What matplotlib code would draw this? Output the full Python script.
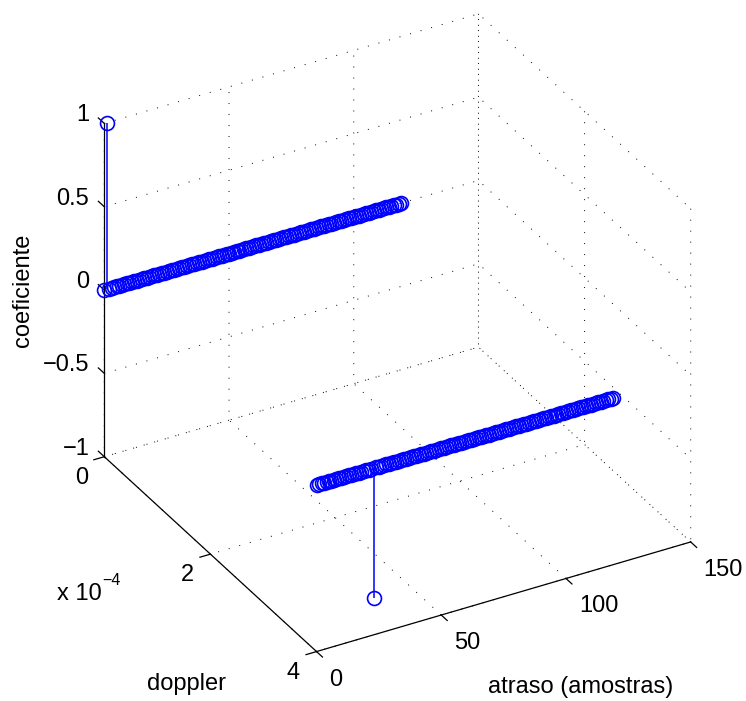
import matplotlib
matplotlib.use("Agg")
import matplotlib.pyplot as plt
from mpl_toolkits.mplot3d import proj3d

plt.rcParams['font.family'] = ['Liberation Sans', 'DejaVu Sans']

W, H = 746, 701
FS = 17

# dados
atraso = list(range(120))
doppler_1 = 0.0
doppler_2 = 4e-4
coef_1 = [0.0] * 120
coef_1[1] = 1.0
coef_2 = [0.0] * 120
coef_2[23] = -0.78

x_ticks = [0, 50, 100, 150]
y_ticks = [0, 2e-4, 4e-4]
z_ticks = [-1, -0.5, 0, 0.5, 1]
x_labels = ['0', '50', '100', '150']
y_labels = ['0', '2', '4']
z_labels = ['\u22121', '\u22120.5', '0', '0.5', '1']

fig = plt.figure(figsize=(W / 100, H / 100), dpi=100)
ax = fig.add_subplot(111, projection='3d', proj_type='ortho')
ax.view_init(elev=31.24, azim=-119.46)
ax.set_box_aspect((430.2, 432.0, 390.2))
ax.set_xlim(0, 150, view_margin=0)
ax.set_ylim(4e-4, 0, view_margin=0)
ax.set_zlim(-1, 1, view_margin=0)

for d, coef in ((doppler_1, coef_1), (doppler_2, coef_2)):
    markers, stems, base = ax.stem(atraso, [d] * len(atraso), coef, linefmt='-', markerfmt='o', basefmt=' ')
    stems.set_color('#0000ff')
    stems.set_linewidth(1.1)
    markers.set_color('#0000ff')
    markers.set_markerfacecolor('none')
    markers.set_markeredgewidth(1.2)
    markers.set_markersize(10)

# os rotulos dos ticks vao como texto a parte, o mplot3d nao deixa posicionar direito
ax.set_xticks(x_ticks, [''] * len(x_ticks))
ax.set_yticks(y_ticks, [''] * len(y_ticks))
ax.set_zticks(z_ticks, [''] * len(z_ticks))
ax.get_yaxis().get_offset_text().set_visible(False)

for axis in (ax.xaxis, ax.yaxis, ax.zaxis):
    axis.pane.set_facecolor((1, 1, 1, 0))
    axis.pane.set_edgecolor('none')
    axis.line.set_color('black')
    axis.line.set_linewidth(0.9)
    axis._axinfo['grid']['color'] = 'black'
    axis._axinfo['grid']['linewidth'] = 0.7
    axis._axinfo['grid']['linestyle'] = (0, (1, 10.3))
    # sinal do tick fica invertido aqui, por isso inward
    axis._axinfo['tick']['inward_factor'] = 0.35
    axis._axinfo['tick']['outward_factor'] = 0
    axis._axinfo['tick']['linewidth'] = {True: 0.9, False: 0.9}

# tick de z na direcao do doppler, como no original
ax.zaxis._get_tickdir = lambda position: 1
ax.zaxis._axinfo['tick']['inward_factor'] = 0
ax.zaxis._axinfo['tick']['outward_factor'] = 0.35

# encaixa a caixa 3D nos pixels da figura original
M = ax.get_proj()
u0, v0, _ = proj3d.proj_transform(0, 0, -1, M)
u1, v1, _ = proj3d.proj_transform(150, 4e-4, -1, M)
lim = ax.viewLim
f0 = (u0 - lim.x0) / (lim.x1 - lim.x0)
f1 = (u1 - lim.x0) / (lim.x1 - lim.x0)
g0 = (v0 - lim.y0) / (lim.y1 - lim.y0)
S = (690.7 - 104.3) / (f1 - f0)
left = 104.3 - S * f0
bottom = (H - 456.7) - S * g0
ax.set_position([left / W, bottom / H, S / W, S / H])


def tick_text(x, y, z, label, dx, dy, ha):
    u, v, _ = proj3d.proj_transform(x, y, z, M)
    px = left + S * (u - lim.x0) / (lim.x1 - lim.x0) + dx
    py = bottom + S * (v - lim.y0) / (lim.y1 - lim.y0) - dy
    fig.text(px / W, py / H, label, fontsize=FS, ha=ha, va='center')


for t, lab in zip(x_ticks, x_labels):
    tick_text(t, 4e-4, -1, lab, 13, 28, 'left')
for t, lab in zip(y_ticks, y_labels):
    tick_text(0, t, -1, lab, -23, 21, 'center')
for t, lab in zip(z_ticks, z_labels):
    tick_text(0, 0, t, lab, -15, -8, 'right')

fig.text(581 / W, 1 - 687 / H, 'atraso (amostras)', fontsize=FS, ha='center', va='center')
fig.text(186 / W, 1 - 684 / H, 'doppler', fontsize=FS, ha='center', va='center')
fig.text(23 / W, 1 - 290 / H, 'coeficiente', fontsize=FS, rotation=90, ha='center', va='center')
fig.text(57 / W, 1 - 600 / H, 'x 10', fontsize=FS, ha='left', va='baseline')
fig.text(102 / W, 1 - 585 / H, '\u22124', fontsize=11.5, ha='left', va='baseline')

fig.savefig('out.png', dpi=100)
